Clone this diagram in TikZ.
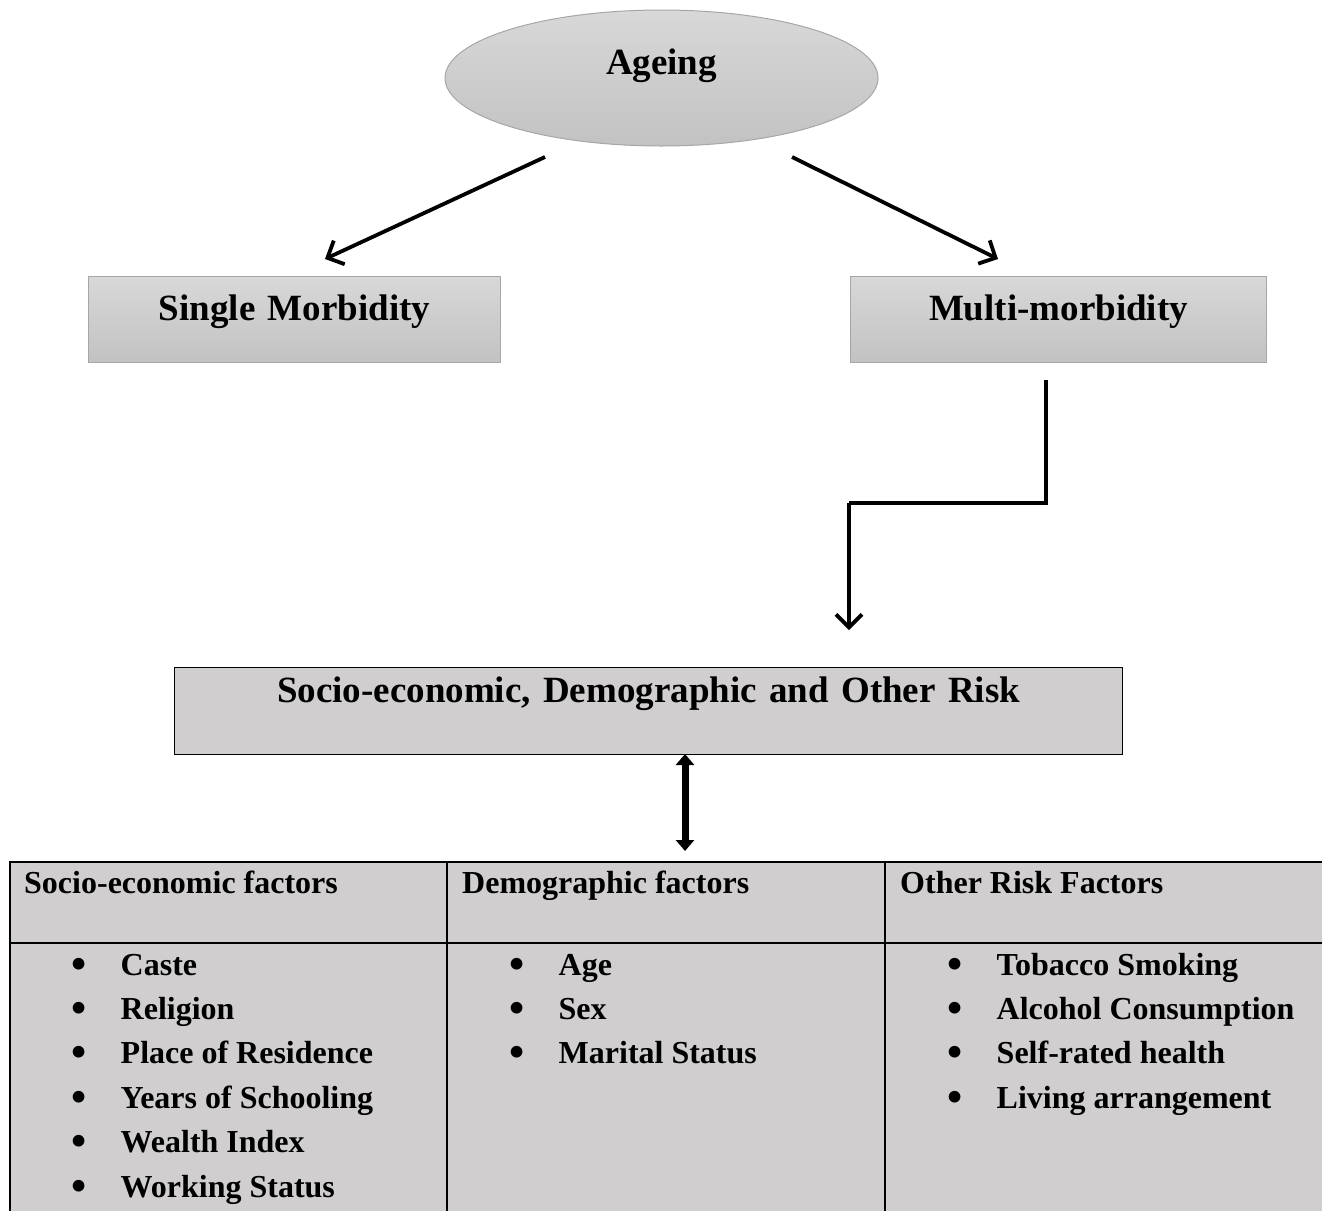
\documentclass[tikz,border=0pt]{standalone}
\usepackage{fontspec}
\usepackage{graphicx}
\setmainfont{Liberation Serif}
\usetikzlibrary{shapes.geometric,arrows.meta}
\definecolor{cellgray}{HTML}{D0CECE}
\definecolor{edgegray}{HTML}{A6A6A6}
\definecolor{topgray}{HTML}{D8D8D8}
\definecolor{botgray}{HTML}{C2C2C2}
\newcommand\myitem[1]{\makebox[0pt]{\raisebox{-3pt}{\scalebox{1.35}{\textbullet}}}\hspace{41.5pt}#1}
\begin{document}
\begin{tikzpicture}[x=1pt,y=-1pt,
  bigfont/.style={font=\fontsize{37}{44}\selectfont\bfseries},
  tabfont/.style={font=\fontsize{32}{44.4}\selectfont\bfseries},
  shaded/.style={draw=edgegray, line width=1pt, top color=topgray, bottom color=botgray, inner sep=0pt, align=center},
  plainbox/.style={draw=black, line width=1.2pt, fill=cellgray, inner sep=0pt, align=center},
  cell/.style={tabfont, inner sep=0pt, anchor=base west},
  arr/.style={line width=3.8pt, -{Straight Barb[length=13pt,width=26pt]}},
  dbl/.style={line width=7pt, {Triangle[length=11pt,width=18pt]}-{Triangle[length=11pt,width=18pt]}},
  grid/.style={line width=1.2pt, draw=black}
]
\useasboundingbox (0,0) rectangle (1322,1211);

% Ageing ellipse
\node[shaded, bigfont, ellipse, minimum width=433pt, minimum height=136pt,
      text width=200pt, text height=10pt, text depth=18pt] (age) at (661.5,78) {Ageing};

% Morbidity boxes
\node[shaded, bigfont, rectangle, anchor=north west, text width=412pt,
      text height=44pt, text depth=42pt] (single) at (88,276) {Single Morbidity};
\node[shaded, bigfont, rectangle, anchor=north west, text width=416pt,
      text height=44pt, text depth=42pt] (multi) at (850,276) {Multi-morbidity};

% Risk box
\node[plainbox, bigfont, rectangle, anchor=north west, text width=948pt,
      text height=35pt, text depth=52pt] (risk) at (174,667) {Socio-economic, Demographic and Other Risk};

% arrows from ageing
\coordinate (a1) at (545,157);
\coordinate (a2) at (792,157);
\coordinate (s1) at (325,259);
\coordinate (m1) at (998,259);
\draw[arr] (a1) -- (s1);
\draw[arr] (a2) -- (m1);

% elbow connector
\coordinate (e0) at (1046,380);
\coordinate (e1) at (849,503);
\coordinate (e2) at (849,630);
\draw[line width=3.8pt] (e0) |- (e1);
\draw[arr] (e1) -- (e2);

% table
\fill[cellgray] (10,862) rectangle (1322,1211);
\coordinate (t0) at (10,862);
\coordinate (t1) at (1322,862);
\coordinate (t2) at (10,1211);
\coordinate (h0) at (10,943);
\coordinate (h1) at (1322,943);
\coordinate (v1a) at (447,862);
\coordinate (v1b) at (447,1211);
\coordinate (v2a) at (885,862);
\coordinate (v2b) at (885,1211);
\draw[grid] (t1) -- (t0) -- (t2);
\draw[grid] (h0) -- (h1);
\draw[grid] (v1a) -- (v1b);
\draw[grid] (v2a) -- (v2b);

% double arrow
\coordinate (d0) at (685,754);
\coordinate (d1) at (685,851);
\draw[dbl] (d0) -- (d1);

% headers
\node[cell] (h1t) at (24,893) {Socio-economic factors};
\node[cell] (h2t) at (462,893) {Demographic factors};
\node[cell] (h3t) at (900,893) {Other Risk Factors};

% lists
\node[cell] (l1) at (79,975) {\begin{tabular}[t]{@{}l@{}}
\myitem{Caste}\\
\myitem{Religion}\\
\myitem{Place of Residence}\\
\myitem{Years of Schooling}\\
\myitem{Wealth Index}\\
\myitem{Working Status}
\end{tabular}};
\node[cell] (l2) at (517,975) {\begin{tabular}[t]{@{}l@{}}
\myitem{Age}\\
\myitem{Sex}\\
\myitem{Marital Status}
\end{tabular}};
\node[cell] (l3) at (955,975) {\begin{tabular}[t]{@{}l@{}}
\myitem{Tobacco Smoking}\\
\myitem{Alcohol Consumption}\\
\myitem{Self-rated health}\\
\myitem{Living arrangement}
\end{tabular}};
\end{tikzpicture}
\end{document}
